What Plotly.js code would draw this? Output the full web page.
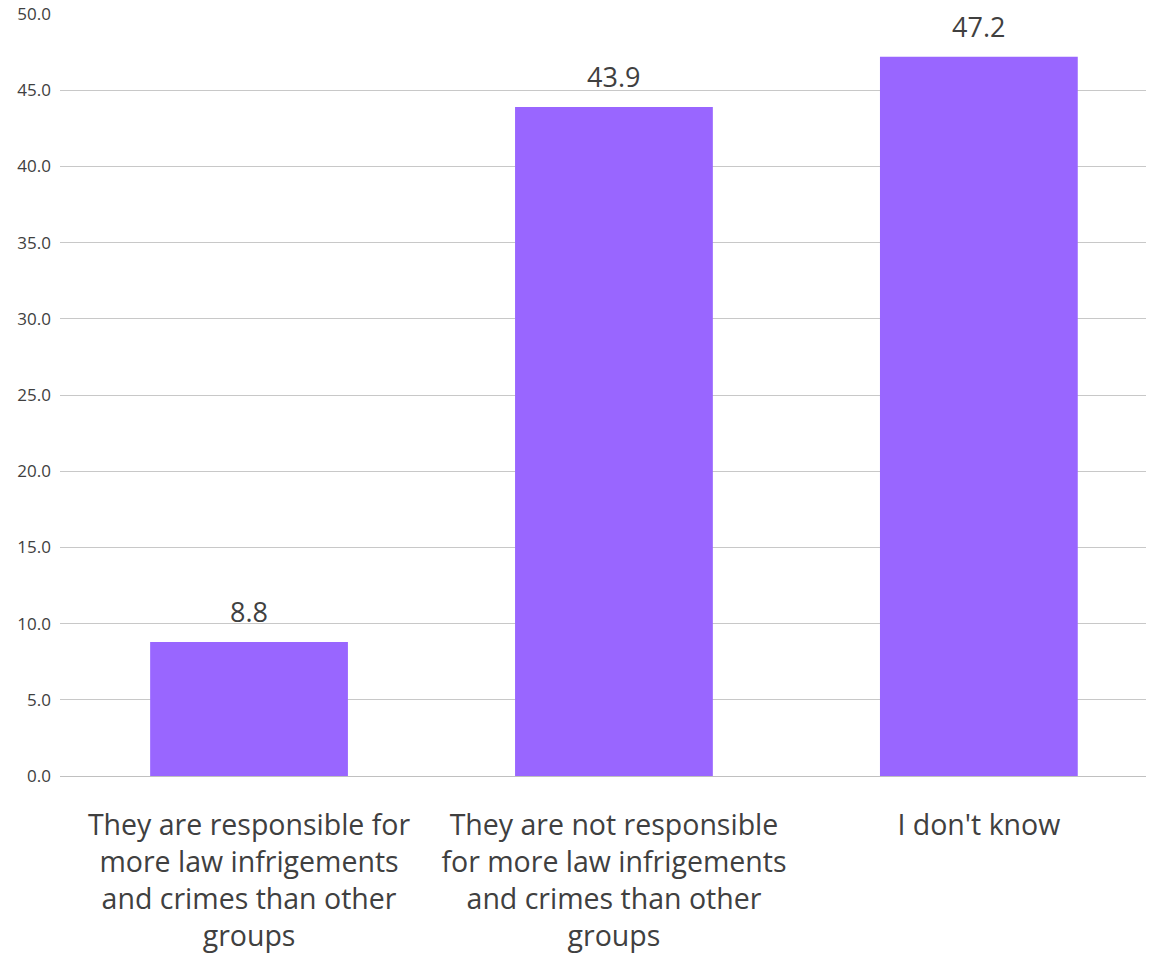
<!DOCTYPE html>
<html>
<head>
<meta charset="utf-8">
<script src="https://cdn.plot.ly/plotly-3.0.1.min.js"></script>
<style>html,body{margin:0;padding:0;background:#fff;}#chart{width:1151px;height:964px;}</style>
</head>
<body>
<div id="chart"></div>
<script>
const categories = [
  "They are responsible for<br>more law infrigements<br>and crimes than other<br>groups",
  "They are not responsible<br>for more law infrigements<br>and crimes than other<br>groups",
  "I don't know"
];
const values = [8.8, 43.9, 47.2];
const valueLabels = ["8.8", "43.9", "47.2"];
const yTickVals = [0, 5, 10, 15, 20, 25, 30, 35, 40, 45, 50];
const yTickText = ["0.0", "5.0", "10.0", "15.0", "20.0", "25.0", "30.0", "35.0", "40.0", "45.0", "50.0"];

const trace = {
  type: "bar",
  x: categories,
  y: values,
  marker: {color: "#9966FF"},
  hoverinfo: "none"
};

const annotations = categories.map((c, i) => ({
  x: c, y: values[i], xref: "x", yref: "y",
  text: valueLabels[i], showarrow: false,
  yanchor: "middle", yshift: 30,
  font: {family: "Open Sans, sans-serif", size: 27, color: "#404040"}
}));

const layout = {
  width: 1151, height: 964,
  margin: {l: 60, r: 5, t: 14, b: 188},
  paper_bgcolor: "#fff", plot_bgcolor: "#fff",
  bargap: 0.458,
  showlegend: false,
  annotations: annotations,
  font: {family: "Open Sans, sans-serif", color: "#404040"},
  xaxis: {
    range: [-0.518, 2.458],
    tickfont: {family: "Open Sans, sans-serif", size: 28.5, color: "#404040"},
    showgrid: false, zeroline: false, showline: false,
    ticks: "", ticklen: 0, ticklabelstandoff: 29
  },
  yaxis: {
    range: [0, 50],
    tickvals: yTickVals, ticktext: yTickText,
    tickfont: {family: "Open Sans, sans-serif", size: 17, color: "#404040"},
    showgrid: true, gridcolor: "#c8c8c8", gridwidth: 1,
    zeroline: true, zerolinecolor: "#c0c0c0", zerolinewidth: 1,
    showline: false, ticks: "", ticklabelstandoff: 8
  }
};

Plotly.newPlot("chart", [trace], layout, {staticPlot: true, displayModeBar: false});
</script>
</body>
</html>
